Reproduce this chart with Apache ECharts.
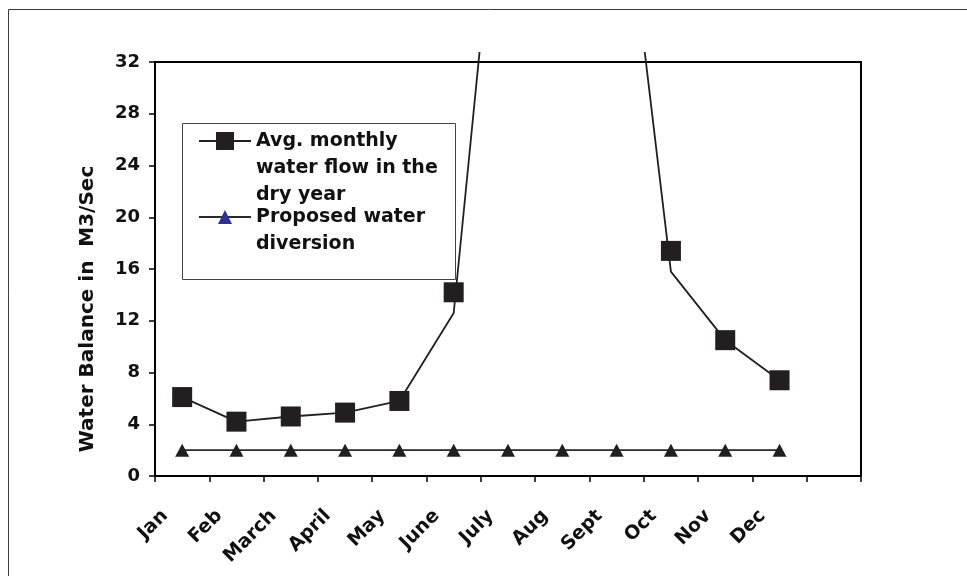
<!DOCTYPE html>
<html>
<head>
<meta charset="utf-8">
<script src="https://cdn.jsdelivr.net/npm/echarts@6/dist/echarts.min.js"></script>
<style>html,body{margin:0;padding:0;background:#fff}#c{width:967px;height:576px}</style>
</head>
<body>
<div id="c"></div>
<script>
// ---- data ----
const months = ['Jan', 'Feb', 'March', 'April', 'May', 'June', 'July', 'Aug', 'Sept', 'Oct', 'Nov', 'Dec'];
const categories = months.concat(['']);            // 13 bands (last one empty)
const tickLabels = months.concat(['', '']);        // 14 tick positions
const flowLine = [6.1, 4.2, 4.6, 4.9, 5.8, 12.6, 55, 60, 51, 15.8, 10.5, 7.4];
const flowMarkers = [6.1, 4.2, 4.6, 4.9, 5.8, 14.2, 55, 60, 51, 17.4, 10.5, 7.4];
const diversion = [2, 2, 2, 2, 2, 2, 2, 2, 2, 2, 2, 2];
const yMin = 0, yMax = 32, yStep = 4;
const flowName = 'Avg. monthly\nwater flow in the\ndry year';
const divName = 'Proposed water\ndiversion';

// ---- layout ----
const FONT = 'DejaVu Sans';
const gLeft = 155, gRight = 106, gTop = 62, gBottom = 100;
const lineTop = 53;
const labelShift = 10;
const plotH = 576 - gTop - gBottom;
const lineMax = yMax * (576 - lineTop - gBottom) / plotH;
const ink = '#231f20';
const legendText = {fontFamily: FONT, fontWeight: 'bold', fontSize: 19, color: '#111', lineHeight: 27};

const chart = echarts.init(document.getElementById('c'), null, {renderer: 'canvas'});
chart.setOption({
  backgroundColor: '#fff',
  animation: false,
  graphic: [
    {type: 'rect', shape: {x: 8.5, y: 9.5, width: 2000, height: 2000},
     style: {fill: 'none', stroke: '#3a3a3a', lineWidth: 1}, silent: true, z: -10},
    {type: 'rect', shape: {x: 182.5, y: 123.5, width: 273, height: 156},
     style: {fill: '#fff', stroke: '#444', lineWidth: 1}, silent: true, z: 1}
  ],
  grid: [
    {left: gLeft, right: gRight, top: gTop, bottom: gBottom, show: true,
     borderColor: '#000', borderWidth: 2, backgroundColor: 'transparent'},
    {left: gLeft, right: gRight, top: lineTop, bottom: gBottom},
    {left: gLeft + labelShift, right: gRight - labelShift, top: gTop, bottom: gBottom}
  ],
  xAxis: [
    {type: 'category', gridIndex: 0, data: categories, boundaryGap: true,
     axisLine: {lineStyle: {color: '#000', width: 2}},
     axisTick: {show: true, inside: false, length: 6, interval: 0, lineStyle: {color: '#000', width: 1.5}},
     axisLabel: {show: false}, splitLine: {show: false}},
    {type: 'category', gridIndex: 1, data: categories, boundaryGap: true, show: false},
    {type: 'category', gridIndex: 2, data: tickLabels, boundaryGap: false,
     axisLine: {show: false}, axisTick: {show: false}, splitLine: {show: false},
     axisLabel: {show: true, interval: 0, rotate: 45, margin: 37,
       fontFamily: FONT, fontWeight: 'bold', fontSize: 19, color: '#111'}}
  ],
  yAxis: [
    {type: 'value', gridIndex: 0, min: yMin, max: yMax, interval: yStep,
     name: 'Water Balance in  M3/Sec', nameLocation: 'middle', nameGap: 57,
     nameTextStyle: {fontFamily: FONT, fontWeight: 'bold', fontSize: 20, color: '#111', padding: [0, 80, 0, 0]},
     axisLine: {show: true, lineStyle: {color: '#000', width: 2}},
     axisTick: {show: true, length: 6, lineStyle: {color: '#000', width: 1.5}},
     axisLabel: {margin: 15, fontFamily: FONT, fontWeight: 'bold', fontSize: 18, color: '#111'},
     splitLine: {show: false}},
    {type: 'value', gridIndex: 1, min: 0, max: lineMax, show: false, splitLine: {show: false}},
    {type: 'value', gridIndex: 2, min: 0, max: 1, show: false, splitLine: {show: false}}
  ],
  legend: [
    {left: 198, top: 141 - 67.5, padding: 0, itemWidth: 52, itemHeight: 22.5, selectedMode: false, z: 5,
     data: [{name: flowName}],
     formatter: function (n) { return '\n\n' + n; },
     textStyle: legendText},
    {left: 198, top: 217 - 40.5, padding: 0, itemWidth: 52, itemHeight: 17.5, selectedMode: false, z: 5,
     data: [{name: divName, itemStyle: {color: '#2e3192'}}],
     formatter: function (n) { return '\n' + n; },
     textStyle: legendText}
  ],
  series: [
    {name: flowName, type: 'line', xAxisIndex: 1, yAxisIndex: 1, data: flowLine,
     symbol: 'rect', showSymbol: false, clip: true, silent: true, z: 3,
     lineStyle: {color: ink, width: 1.8}, itemStyle: {color: ink}},
    {name: 'flowMarkers', type: 'scatter', xAxisIndex: 0, yAxisIndex: 0, data: flowMarkers,
     symbol: 'rect', symbolSize: 20, clip: true, silent: true, z: 4,
     itemStyle: {color: ink, opacity: 1}},
    {name: divName, type: 'line', xAxisIndex: 0, yAxisIndex: 0, data: diversion,
     symbol: 'triangle', symbolSize: [14, 13], showSymbol: true, silent: true, z: 3,
     lineStyle: {color: '#2a2a2a', width: 1.6}, itemStyle: {color: ink}}
  ]
});
</script>
</body>
</html>
